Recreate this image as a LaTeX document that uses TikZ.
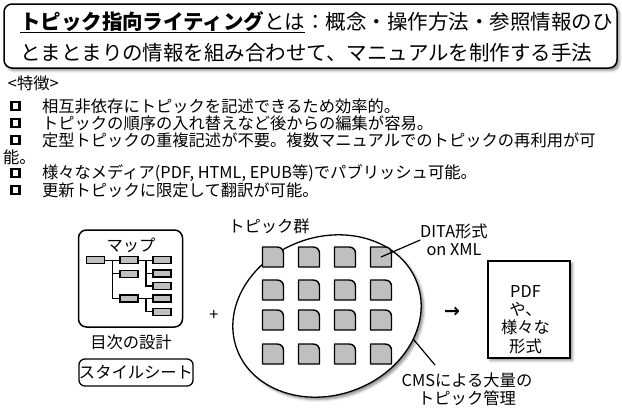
\documentclass[tikz,border=0pt]{standalone}
\usepackage{fontspec}
\setmainfont{Noto Sans CJK JP}
\newfontfamily\djv{DejaVu Sans}
\usetikzlibrary{shapes.geometric,shadows.blur}
\begin{document}
\begin{tikzpicture}[x=1pt,y=1pt,
  every node/.style={inner sep=0pt, outer sep=0pt},
  titlefont/.style={font=\fontsize{20.5}{24}\selectfont},
  bodyfont/.style={font=\fontsize{16.3}{18.3}\selectfont},
  box/.style={draw, line width=1.5pt, rounded corners=8pt, fill=white},
  shadowed/.style={blur shadow={shadow xshift=2.5pt, shadow yshift=-2.5pt, shadow blur radius=2.5pt, shadow opacity=45}},
  bulletbox/.style={draw, line width=2.2pt, minimum size=8pt, fill=white},
  leaf/.style={draw, line width=1.3pt, fill=black!25, minimum width=18pt, minimum height=7pt},
  topic/.style={draw, line width=1.4pt, fill=black!25, line join=round},
  wire/.style={line width=1.3pt},
  leader/.style={line width=1.2pt},
]
\useasboundingbox (0,0) rectangle (622,-408);

% title
\node[box, shadowed, minimum width=613, minimum height=64] (title) at (310.5,-36) {};
\node[titlefont, anchor=west] (t1a) at (20,-22) {\textbf{トピック指向ライティング}とは};
\node[titlefont, anchor=west] (t1b) at (t1a.east) {：概念・操作方法・参照情報のひ};
\draw[line width=1.2pt] ([yshift=-2.5pt]t1a.base west) -- ([yshift=-2.5pt]t1a.base east);
\node[titlefont, anchor=west] (t2) at (20,-53) {とまとまりの情報を組み合わせて、マニュアルを制作する手法};

% features
\node[bodyfont, anchor=west] (f0) at (8,-83) {<特徴>};
\node[bulletbox] (b1) at (15.5,-106) {};
\node[bodyfont, anchor=west] (f1) at (42,-106) {相互非依存にトピックを記述できるため効率的。};
\node[bulletbox] (b2) at (15.5,-123) {};
\node[bodyfont, anchor=west] (f2) at (42,-123) {トピックの順序の入れ替えなど後からの編集が容易。};
\node[bulletbox] (b3) at (15.5,-140) {};
\node[bodyfont, anchor=west] (f3) at (42,-140) {定型トピックの重複記述が不要。複数マニュアルでのトピックの再利用が可};
\node[bodyfont, anchor=west] (f3b) at (3,-157) {能。};
\node[bulletbox] (b4) at (15.5,-173) {};
\node[bodyfont, anchor=west] (f4) at (42,-173) {様々なメディア(PDF, HTML, EPUB等)でパブリッシュ可能。};
\node[bulletbox] (b5) at (15.5,-190) {};
\node[bodyfont, anchor=west] (f5) at (42,-190) {更新トピックに限定して翻訳が可能。};

% map box
\node[box, minimum width=104, minimum height=97] (map) at (130.5,-278.5) {};
\node[bodyfont] (maplbl) at (131,-245) {マップ};
\node[leaf] (r0) at (95.5,-260.3) {};
\node[leaf] (a1) at (129,-260.3) {};
\node[leaf] (a2) at (129,-273.7) {};
\node[leaf] (a3) at (129,-298.5) {};
\node[leaf] (c1) at (162,-260.3) {};
\node[leaf] (c2) at (162,-273.5) {};
\node[leaf] (c3) at (162,-286) {};
\node[leaf] (c4) at (162,-298.5) {};
\node[leaf] (c5) at (162,-311.7) {};
\coordinate (j1) at (112.3,-260.3);
\coordinate (j2) at (146,-260.3);
\coordinate (j3) at (146,-298.5);
\draw[wire] (r0.east) -- (a1.west);
\draw[wire] (j1) |- (a2.west);
\draw[wire] (j1) |- (a3.west);
\draw[wire] (a1.east) -- (c1.west);
\draw[wire] (j2) |- (c2.west);
\draw[wire] (j2) |- (c3.west);
\draw[wire] (a3.east) -- (c4.west);
\draw[wire] (j3) |- (c5.west);
\node[bodyfont] (toc) at (131,-342) {目次の設計};
\node[draw, line width=1.3pt, rounded corners=6pt, minimum width=114, minimum height=27, bodyfont] (style) at (136,-372.5) {スタイルシート};

\node[bodyfont] (plus) at (214,-315) {+};

% topics ellipse
\node[ellipse, draw, line width=1.3pt, fill=white, minimum width=192, minimum height=158, rotate=20, shadowed] (ell) at (327,-316) {};
\foreach \x in {273,309,345,381}{
  \foreach \y in {257,290,320,354}{
    \draw[topic] (\x-10.5,-\y-10) -- (\x-10.5,-\y+10) -- (\x+4,-\y+10)
      .. controls (\x+8,-\y+10) and (\x+10.5,-\y+7.5) .. (\x+10.5,-\y+3.5) -- (\x+10.5,-\y-10) -- cycle;
  }
}
\coordinate (t41) at (381,-257);
\node[bodyfont] (group) at (269,-226) {トピック群};
\node[font=\fontsize{16.3}{18}\selectfont, align=center] (dita) at (454,-240) {DITA形式\\on XML};
\draw[leader] (dita.west) -- (t41);
\node[bodyfont, align=center] (cms) at (467,-389) {CMSによる大量の\\トピック管理};
\coordinate (cmsa) at (435,-365);
\draw[leader] (cmsa) -- (ell.-35);

\node[font=\djv\bfseries\fontsize{19}{20}\selectfont] (arr) at (452,-312) {→};

% output box
\node[draw, line width=2pt, fill=white, shadowed, minimum width=82, minimum height=97] (pdf) at (529,-309.5) {};
\node[bodyfont, align=center] (pdftxt) at (525.5,-319.5) {PDF\\や、\\様々な\\形式};
\end{tikzpicture}
\end{document}
